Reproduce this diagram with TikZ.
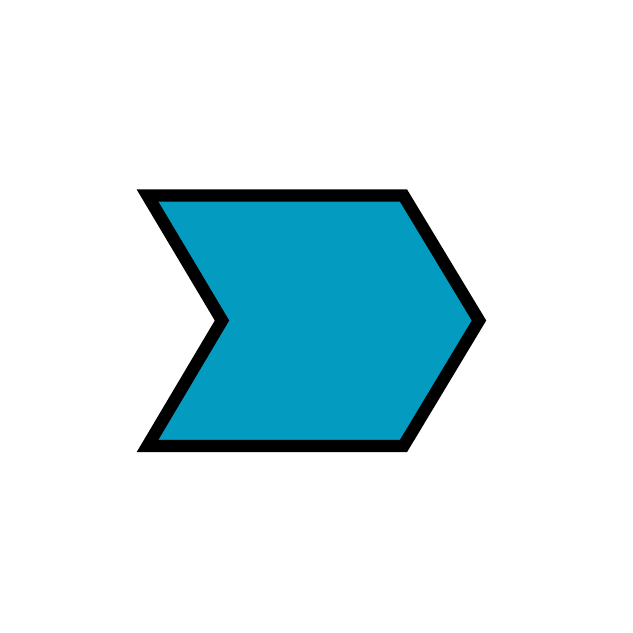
\documentclass[tikz,border=0pt]{standalone}
\definecolor{chev}{RGB}{3,156,192}
\begin{document}
\begin{tikzpicture}[x=1pt,y=-1pt,chevron/.style={fill=chev,draw=black,line width=12.4pt,line join=miter}]
\useasboundingbox (0,0) rectangle (633,633);
\fill[white] (0,0) rectangle (633,633);
\draw[chevron] (147.5,195.5) -- (403.5,195.5) -- (479,320.5) -- (403.5,446) -- (147.5,446) -- (222,320.5) -- cycle;
\end{tikzpicture}
\end{document}
